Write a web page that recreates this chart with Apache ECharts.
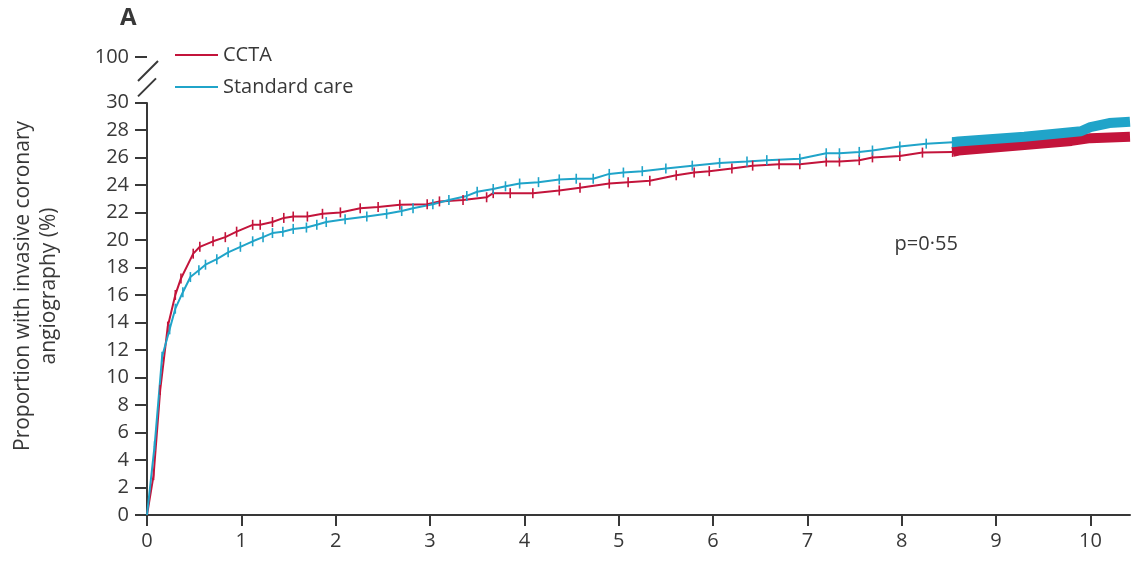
<!DOCTYPE html>
<html>
<head>
<meta charset="utf-8">
<script src="https://cdn.jsdelivr.net/npm/echarts@6/dist/echarts.min.js"></script>
<style>
html, body { margin: 0; padding: 0; background: #fff; }
#chart { width: 1140px; height: 562px; }
</style>
</head>
<body>
<div id="chart"></div>
<script>
// years since randomisation vs cumulative proportion (%) with invasive angiography
const xTicks = [0, 1, 2, 3, 4, 5, 6, 7, 8, 9, 10];
const yStep = 2;          // tick spacing below the break
const yBreak = [30, 100]; // axis is cut between these values

// CCTA arm, each point after the first carries a censor tick
const cctaCurve = [
  [0, 0], [0.07, 2.9], [0.14, 9.1], [0.22, 13.7], [0.3, 16.0], [0.36, 17.2],
  [0.49, 19.0], [0.56, 19.5], [0.7, 19.9], [0.83, 20.2], [0.95, 20.6], [1.12, 21.1],
  [1.2, 21.1], [1.33, 21.3], [1.45, 21.6], [1.55, 21.7], [1.7, 21.7], [1.86, 21.9],
  [2.05, 22.0], [2.26, 22.3], [2.45, 22.4], [2.68, 22.55], [2.97, 22.6], [3.1, 22.8],
  [3.35, 22.9], [3.6, 23.1], [3.67, 23.4], [3.85, 23.4], [4.09, 23.4], [4.37, 23.6],
  [4.59, 23.8], [4.9, 24.1], [5.1, 24.2], [5.33, 24.3], [5.61, 24.7], [5.8, 24.9],
  [5.96, 25.0], [6.2, 25.2], [6.42, 25.4], [6.7, 25.5], [6.92, 25.5], [7.2, 25.7],
  [7.34, 25.7], [7.55, 25.8], [7.69, 26.0], [7.98, 26.1], [8.22, 26.35], [8.54, 26.4]
];
// CCTA, stretch where censor ticks merge into a solid band
const cctaDense = [[8.54, 26.4], [8.6, 26.5], [9.3, 26.9], [9.8, 27.2], [10.0, 27.4], [10.42, 27.5]];

// standard care arm
const stdCurve = [
  [0, 0], [0.08, 5.0], [0.16, 11.5], [0.24, 13.5], [0.3, 15.0], [0.38, 16.2],
  [0.46, 17.3], [0.55, 17.8], [0.62, 18.2], [0.74, 18.6], [0.86, 19.1], [0.99, 19.5],
  [1.12, 19.9], [1.23, 20.2], [1.33, 20.5], [1.44, 20.6], [1.55, 20.8], [1.69, 20.9],
  [1.8, 21.1], [1.9, 21.3], [2.1, 21.5], [2.33, 21.7], [2.54, 21.9], [2.7, 22.1],
  [2.82, 22.3], [3.03, 22.6], [3.2, 22.9], [3.39, 23.2], [3.5, 23.5], [3.67, 23.7],
  [3.8, 23.9], [3.95, 24.1], [4.15, 24.2], [4.37, 24.4], [4.55, 24.45], [4.73, 24.45],
  [4.9, 24.8], [5.05, 24.9], [5.25, 25.0], [5.5, 25.2], [5.78, 25.4], [6.07, 25.6],
  [6.36, 25.7], [6.57, 25.8], [6.92, 25.9], [7.2, 26.3], [7.34, 26.3], [7.55, 26.4],
  [7.69, 26.5], [7.98, 26.8], [8.26, 27.0], [8.54, 27.1]
];
const stdDense = [[8.54, 27.1], [8.6, 27.15], [9.3, 27.5], [9.9, 27.9], [10.0, 28.2], [10.2, 28.5], [10.42, 28.6]];

const RED = '#c3143b';
const BLUE = '#20a4c9';
const INK = '#383838';
const FONT = 'Open Sans';

function curve(name, data, color) {
  return {
    name: name,
    type: 'line',
    // no censor mark at the origin
    data: data.map((p, i) => (i === 0 ? { value: p, symbol: 'none' } : p)),
    symbol: 'rect',
    symbolSize: [1.6, 10],
    showSymbol: true,
    lineStyle: { color: color, width: 2 },
    itemStyle: { color: color },
    z: 3
  };
}

function band(name, data, color) {
  return {
    name: name,
    type: 'line',
    data: data,
    symbol: 'none',
    silent: true,
    lineStyle: { color: color, width: 10, cap: 'butt' },
    itemStyle: { color: color },
    z: 2
  };
}

let ec = echarts.init(document.getElementById('chart'));
ec.setOption({
  animation: false,
  textStyle: { fontFamily: FONT },
  title: {
    text: 'A',
    left: 120,
    top: 6,
    padding: 0,
    textStyle: { fontSize: 24, fontWeight: 'bold', color: INK, fontFamily: FONT }
  },
  legend: {
    data: ['CCTA', 'Standard care'],
    orient: 'vertical',
    left: 175,
    top: 45,
    padding: 0,
    icon: 'rect',
    itemWidth: 43,
    itemHeight: 2,
    itemGap: 12,
    textStyle: { fontSize: 20, color: INK, lineHeight: 20 }
  },
  grid: { left: 147, right: 10, top: 57, bottom: 47, outerBoundsMode: 'none', containLabel: false },
  xAxis: {
    type: 'value',
    min: 0,
    max: 10.42,
    interval: 1,
    axisLine: { lineStyle: { color: INK, width: 2 } },
    axisTick: { show: true, customValues: xTicks, length: 11, lineStyle: { color: INK, width: 2 } },
    axisLabel: { customValues: xTicks, fontSize: 20, color: INK, margin: 16 },
    splitLine: { show: false }
  },
  yAxis: {
    type: 'value',
    min: 0,
    max: yBreak[1],
    interval: yStep,
    breaks: [{ start: yBreak[0], end: yBreak[1], gap: 3.3 }],
    breakArea: { show: false },
    axisLine: { show: true, lineStyle: { color: INK, width: 2 } },
    axisTick: { show: true, length: 12, lineStyle: { color: INK, width: 2 } },
    axisLabel: { fontSize: 20, color: INK, margin: 18 },
    splitLine: { show: false },
    name: 'Proportion with invasive coronary\nangiography (%)',
    nameLocation: 'middle',
    nameGap: 85,
    nameTextStyle: { fontSize: 21, lineHeight: 26, color: INK }
  },
  series: [
    curve('CCTA', cctaCurve, RED),
    band('CCTA censored', cctaDense, RED),
    curve('Standard care', stdCurve, BLUE),
    band('Standard care censored', stdDense, BLUE)
  ]
});

// axis break marks placed from the axis scale
const x0 = ec.convertToPixel({ xAxisIndex: 0 }, 0);
const xp = ec.convertToPixel({ xAxisIndex: 0 }, 8.26);
const yp = ec.convertToPixel({ yAxisIndex: 0 }, 19.7);
const y30 = ec.convertToPixel({ yAxisIndex: 0 }, yBreak[0]);
const y100 = ec.convertToPixel({ yAxisIndex: 0 }, yBreak[1]);
const slash = { stroke: INK, lineWidth: 2 };
ec.setOption({
  graphic: [
    { type: 'rect', shape: { x: x0 - 3, y: y100 + 13, width: 6, height: (y30 - 15) - (y100 + 13) }, style: { fill: '#fff' }, z: 100 },
    { type: 'line', shape: { x1: x0 - 9, y1: y100 + 24, x2: x0 + 11, y2: y100 + 4 }, style: slash, z: 101 },
    { type: 'line', shape: { x1: x0 - 9, y1: y30 - 6, x2: x0 + 9, y2: y30 - 24 }, style: slash, z: 101 },
    { type: 'text', x: xp, y: yp, style: { text: 'p=0·55', fontSize: 20, fill: INK, fontFamily: FONT, align: 'center', verticalAlign: 'middle' }, z: 101 }
  ]
});
</script>
</body>
</html>
